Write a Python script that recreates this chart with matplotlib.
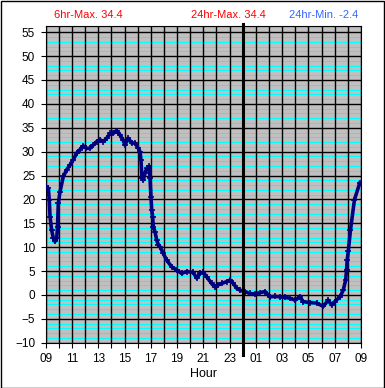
import matplotlib
matplotlib.use("Agg")
import matplotlib.pyplot as plt
from matplotlib.patches import Rectangle

# temperature trace, hours since 00:00 of first day (9 -> 33)
hours = [9.0, 9.2, 9.27, 9.33, 9.45, 9.58, 9.7, 9.84, 9.9, 9.96, 10.09, 10.34,
         10.6, 10.85, 11.1, 11.36, 11.6, 11.86, 12.1, 12.37, 12.62, 12.88, 13.13,
         13.38, 13.64, 13.9, 14.14, 14.4, 14.65, 14.9, 15.03, 15.29, 15.54, 15.8,
         16.05, 16.18, 16.25, 16.33, 16.43, 16.56, 16.69, 16.88, 16.94, 17.01,
         17.07, 17.14, 17.19, 17.32, 17.45, 17.57, 17.7, 17.95, 18.2, 18.59,
         18.97, 19.35, 19.73, 20.23, 20.5, 20.74, 21.0, 21.25, 21.63, 21.88,
         22.13, 22.4, 22.78, 23.03, 23.28, 23.54, 23.79, 24.17, 24.55, 24.93,
         25.31, 25.7, 26.07, 26.45, 26.83, 27.2, 27.6, 27.97, 28.35, 28.6, 29.1,
         29.62, 30.13, 30.5, 30.76, 31.0, 31.4, 31.65, 31.83, 31.9, 31.95,
         32.03, 32.2, 32.5, 32.9]
temps = [22.7, 22.3, 19.9, 16.4, 13.6, 11.9, 11.2, 11.9, 14.3, 19.2, 21.6, 24.8,
         26.2, 27.2, 28.3, 29.7, 30.4, 31.2, 30.7, 30.7, 31.4, 32.1, 32.5,
         32.1, 32.8, 33.8, 33.8, 34.4, 33.5, 32.4, 31.4, 32.8, 31.8, 31.8,
         30.7, 30.0, 28.3, 24.4, 24.1, 25.5, 26.5, 26.9, 24.4, 20.6,
         17.8, 16.4, 14.3, 13.2, 11.5, 10.5, 10.1, 8.7, 7.3, 5.9,
         5.2, 4.5, 4.9, 4.7, 3.5, 4.5, 4.7, 3.8, 2.4, 1.7,
         2.1, 2.4, 2.8, 3.1, 2.4, 1.4, 1.0, 0.7, 0.3, 0.2,
         0.5, 0.7, -0.4, -0.3, -0.4, -0.5, -0.7, -1.1, -0.4, -1.4, -1.6,
         -1.7, -2.4, -1.1, -2.1, -1.4, -0.4, 1.0, 3.1, 5.2, 7.3,
         9.1, 13.6, 19.9, 23.4]

x_ticks = list(range(9, 34))
x_labels = ["%02d" % (h % 24) if (h - 9) % 2 == 0 else "" for h in x_ticks]
y_ticks = list(range(-10, 56, 5))

header = [("6hr-Max. 34.4", 88, "#ff0000"),
          ("24hr-Max. 34.4", 228, "#ff0000"),
          ("24hr-Min. -2.4", 324, "#3366ff")]

plt.rcParams["font.family"] = "Liberation Sans"

W, H = 385, 388
fig = plt.figure(figsize=(W / 100, H / 100), dpi=100)
ax = fig.add_axes([45.7 / W, (H - 342.7) / H, 315.3 / W, 316.7 / H])
ax.set_facecolor("#c0c0c0")

# grid: cyan every degree, black every 5 and every hour
for v in range(-10, 57):
    if v % 5:
        ax.axhline(v, color="#00ffff", lw=0.5, antialiased=False, zorder=1)
for v in y_ticks:
    ax.axhline(v, color="black", lw=1.0, snap=True, zorder=2)
for h in x_ticks:
    ax.axvline(h, color="black", lw=1.0, snap=True, zorder=2)

ax.plot(hours, temps, color="#000080", lw=2.6, marker="+", ms=5, mew=1.2, zorder=3)

# midnight marker sticking out of the plot
ax.axvline(24, ymin=-0.04, ymax=1.007, color="black", lw=2.2, clip_on=False, zorder=5)

ax.set_xlim(9, 33)
ax.set_ylim(-10, 56.3)
ax.set_xticks(x_ticks)
ax.set_xticklabels(x_labels)
ax.set_yticks(y_ticks)
ax.tick_params(direction="out", length=3.6, width=0.8, labelsize=8.5, pad=4)
for s in ax.spines.values():
    s.set_color("black")
    s.set_linewidth(0.8)
ax.set_xlabel("Hour", fontsize=9, labelpad=2)

for txt, xp, col in header:
    fig.text(xp / W, 1 - 15 / H, txt, color=col, fontsize=8, ha="center", va="center")

fig.patches.append(Rectangle((0.5 / W, 0.5 / H), (W - 1.5) / W, (H - 1.5) / H,
                             transform=fig.transFigure, fill=False, lw=1, ec="black"))

fig.savefig("out.png", dpi=100)
